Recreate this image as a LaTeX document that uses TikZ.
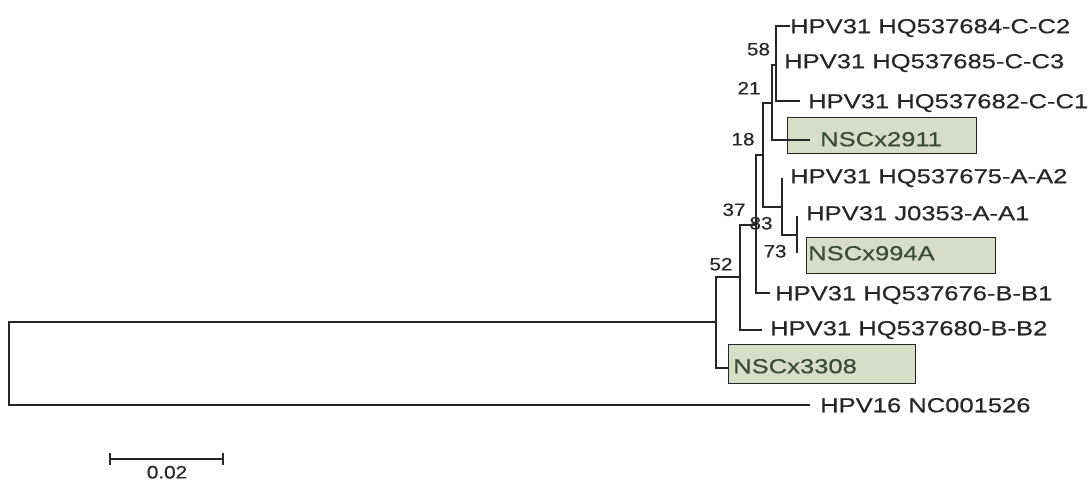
\documentclass[tikz,border=0pt]{standalone}
\usepackage{fontspec}
\setmainfont{Liberation Sans}[FakeStretch=1.26, FakeBold=0.4]
\newfontfamily\bsfont{Liberation Sans}[FakeStretch=1.15, FakeBold=0.4]
\definecolor{boxfill}{HTML}{D8DDC8}
\definecolor{boxtext}{HTML}{3A4A36}
\definecolor{leafcol}{HTML}{262626}
\definecolor{linecol}{HTML}{262626}
\begin{document}
\begin{tikzpicture}[x=1pt,y=-1pt,
  br/.style={line width=1.4pt, draw=linecol},
  leaf/.style={anchor=west, inner sep=0pt, text height=14.5pt, text depth=0pt,
    font=\fontsize{20.3}{20.3}\selectfont, text=leafcol},
  boxlab/.style={leaf, text=boxtext},
  boot/.style={inner sep=0pt, text height=12.9pt, text depth=0pt,
    font=\bsfont\fontsize{18}{18}\selectfont, text=leafcol},
  hlbox/.style={draw=linecol, line width=1.4pt, fill=boxfill, inner sep=0pt, anchor=north west}]
\path[fill=white] (0,0) rectangle (1090,481);
\useasboundingbox (0,0) rectangle (1090,481);

% highlight boxes (drawn first)
\node[hlbox, minimum width=189pt, minimum height=36pt] (box2911) at (787,117) {};
\node[hlbox, minimum width=189pt, minimum height=36pt] (box994) at (806,237) {};
\node[hlbox, minimum width=187pt, minimum height=39pt] (box3308) at (728,344) {};

% internal nodes
\coordinate (r)   at (9,363.5);
\coordinate (n52) at (716,322);
\coordinate (n37) at (740,277);
\coordinate (n83) at (756,225);
\coordinate (n18) at (763,155);
\coordinate (n21) at (772,103);
\coordinate (n58) at (776,65);
\coordinate (nA)  at (782,207);
\coordinate (n73) at (797,235);

% leaf tips
\coordinate (tC2)  at (790,26);
\coordinate (tC3)  at (776,61);
\coordinate (tC1)  at (800,101);
\coordinate (t2911) at (810,140);
\coordinate (tA2)  at (782,178);
\coordinate (tA1)  at (797,216);
\coordinate (t994) at (797,253);
\coordinate (tB1)  at (770,293);
\coordinate (tB2)  at (762,330);
\coordinate (t3308) at (728,368);
\coordinate (t16)  at (810,405);

% branches
\draw[br] (r) |- (n52);
\draw[br] (r) |- (t16);
\draw[br] (n52) |- (n37);
\draw[br] (n52) |- (t3308);
\draw[br] (n37) |- (n83);
\draw[br] (n37) |- (tB2);
\draw[br] (n83) |- (n18);
\draw[br] (n83) |- (tB1);
\draw[br] (n18) |- (n21);
\draw[br] (n18) |- (nA);
\draw[br] (n21) |- (n58);
\draw[br] (n21) |- (t2911);
\draw[br] (n58) |- (tC2);
\draw[br] (n58) |- (tC3);
\draw[br] (n58) |- (tC1);
\draw[br] (nA) |- (tA2);
\draw[br] (nA) |- (n73);
\draw[br] (n73) |- (tA1);
\draw[br] (n73) |- (t994);

% leaf labels
\node[leaf] (lC2) at (790,26) {HPV31 HQ537684-C-C2};
\node[leaf] (lC3) at (784,61) {HPV31 HQ537685-C-C3};
\node[leaf] (lC1) at (808,101) {HPV31 HQ537682-C-C1};
\node[boxlab] (l2911) at (820,139) {NSCx2911};
\node[leaf] (lA2) at (790,176) {HPV31 HQ537675-A-A2};
\node[leaf] (lA1) at (806,213) {HPV31 J0353-A-A1};
\node[boxlab] (l994) at (808,253) {NSCx994A};
\node[leaf] (lB1) at (775,293) {HPV31 HQ537676-B-B1};
\node[leaf] (lB2) at (770,328) {HPV31 HQ537680-B-B2};
\node[boxlab] (l3308) at (733,366) {NSCx3308};
\node[leaf] (l16) at (820,405) {HPV16 NC001526};

% bootstrap values
\node[boot] (b58) at (758.5,49) {58};
\node[boot] (b21) at (749,88) {21};
\node[boot] (b18) at (743,139) {18};
\node[boot] (b37) at (734,209.5) {37};
\node[boot] (b83) at (761,223) {83};
\node[boot] (b73) at (775,251) {73};
\node[boot] (b52) at (721,264) {52};

% scale bar
\coordinate (sb1) at (110,459);
\coordinate (sb2) at (223,459);
\draw[br] (sb1) -- (sb2);
\draw[br] ([yshift=6pt]sb1) -- ([yshift=-6pt]sb1);
\draw[br] ([yshift=6pt]sb2) -- ([yshift=-6pt]sb2);
\node[boot] (sblab) at (167,472) {0.02};
\end{tikzpicture}
\end{document}
